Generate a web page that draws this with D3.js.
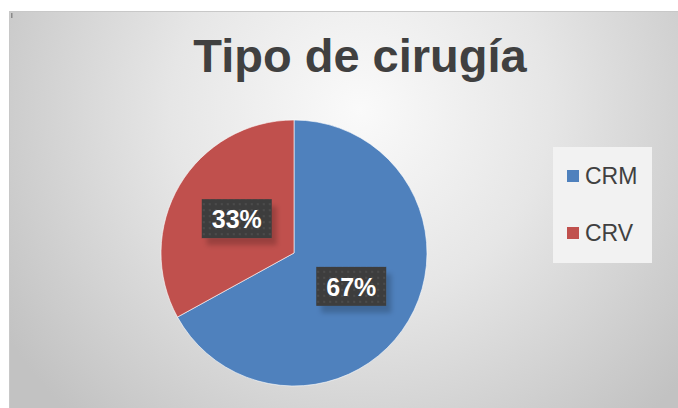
<html>
<head>
<script src="https://d3js.org/d3.v7.min.js"></script>
<style>
  body { margin: 0; background: white; }
  svg { display: block; font-family: "Liberation Sans", Arial, sans-serif; }
</style>
</head>
<body>
<svg width="678" height="408"></svg>
<script>
var categories = ["CRM", "CRV"];
var values = [67, 33];
var colors = ["#4f81bd", "#c0504d"];

var svg = d3.select("svg");
var defs = svg.append("defs");

// background gradient (light in the middle, grey at the corners)
var grad = defs.append("radialGradient").attr("id", "bg")
  .attr("gradientUnits", "userSpaceOnUse")
  .attr("cx", 360).attr("cy", 110).attr("r", 420);
grad.append("stop").attr("offset", "0%").attr("stop-color", "#fafafa");
grad.append("stop").attr("offset", "45%").attr("stop-color", "#e6e6e6");
grad.append("stop").attr("offset", "100%").attr("stop-color", "#c2c2c2");

// dotted fill for the data labels
var pat = defs.append("pattern").attr("id", "dots")
  .attr("patternUnits", "userSpaceOnUse").attr("width", 6).attr("height", 6);
pat.append("rect").attr("width", 6).attr("height", 6).attr("fill", "#3d3d3d");
pat.append("circle").attr("cx", 3).attr("cy", 3).attr("r", 1.1).attr("fill", "#4e4e4e");

var shadow = defs.append("filter").attr("id", "shadow")
  .attr("x", "-30%").attr("y", "-30%").attr("width", "160%").attr("height", "180%");
shadow.append("feDropShadow").attr("dx", 5).attr("dy", 7).attr("stdDeviation", 2.5)
  .attr("flood-color", "#000").attr("flood-opacity", 0.2);

svg.append("rect")
  .attr("x", 9.5).attr("y", 11.5).attr("width", 675).attr("height", 400)
  .attr("fill", "url(#bg)").attr("stroke", "#c8c8c8");
svg.append("rect").attr("x", 11).attr("y", 13).attr("width", 1.5).attr("height", 5).attr("fill", "#8a8a8a");

svg.append("text")
  .attr("x", 360).attr("y", 72)
  .attr("text-anchor", "middle")
  .attr("font-size", "47px").attr("font-weight", "bold")
  .attr("fill", "#404040")
  .text("Tipo de cirugía");

var cx = 294, cy = 253, radius = 133;
var total = d3.sum(values);
var pie = d3.pie().sort(null).value(function(d) { return d; });
var arc = d3.arc().innerRadius(0).outerRadius(radius);
var arcs = pie(values);

var g = svg.append("g").attr("transform", "translate(" + cx + "," + cy + ")");
g.selectAll("path").data(arcs).enter().append("path")
  .attr("d", arc)
  .attr("fill", function(d, i) { return colors[i]; })
  .attr("stroke", "#ffffff").attr("stroke-width", 0.6);

var lab = g.selectAll("g.lab").data(arcs).enter().append("g")
  .attr("class", "lab")
  .attr("transform", function(d) {
    var c = arc.centroid(d);
    return "translate(" + c[0] + "," + c[1] + ")";
  });
lab.append("rect")
  .attr("x", -35).attr("y", -20).attr("width", 70).attr("height", 39)
  .attr("fill", "url(#dots)")
  .attr("filter", "url(#shadow)");
lab.append("text")
  .attr("text-anchor", "middle").attr("y", 9)
  .attr("font-size", "25px").attr("font-weight", "bold")
  .attr("fill", "#ffffff")
  .text(function(d) { return Math.round(d.value / total * 100) + "%"; });

// legend
svg.append("rect")
  .attr("x", 553).attr("y", 147).attr("width", 99).attr("height", 116)
  .attr("fill", "#f2f2f2");
var leg = svg.selectAll("g.leg").data(categories).enter().append("g")
  .attr("class", "leg")
  .attr("transform", function(d, i) { return "translate(567," + (176 + i * 57) + ")"; });
leg.append("rect")
  .attr("x", 0).attr("y", -6).attr("width", 12).attr("height", 12)
  .attr("fill", function(d, i) { return colors[i]; });
leg.append("text")
  .attr("x", 18).attr("y", 8)
  .attr("font-size", "23px")
  .attr("fill", "#404040")
  .text(function(d) { return d; });
</script>
</body>
</html>
